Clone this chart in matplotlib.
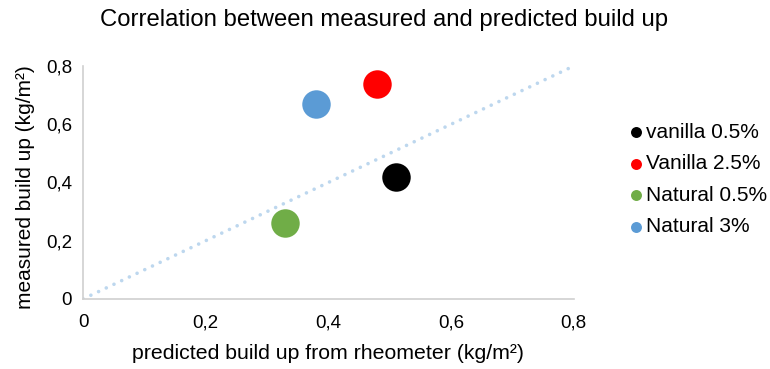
import matplotlib
matplotlib.use("Agg")
import matplotlib.pyplot as plt
from matplotlib.ticker import FuncFormatter

plt.rcParams['font.family'] = ['Liberation Sans', 'DejaVu Sans']

labels = ["vanilla 0.5%", "Vanilla 2.5%", "Natural 0.5%", "Natural 3%"]
predicted = [0.51, 0.48, 0.33, 0.38]
measured = [0.42, 0.74, 0.26, 0.67]
colors = ["#000000", "#ff0000", "#70ad47", "#5b9bd5"]
line_x = [0, 0.8]
line_y = [0, 0.8]

fig = plt.figure(figsize=(7.7, 3.69), dpi=100)
ax = fig.add_axes([0.108, 0.19, 0.637, 0.631])

ax.plot(line_x, line_y, linestyle=(0, (0.01, 2.35)), color="#bdd7ee",
        linewidth=2.6, dash_capstyle="round", zorder=1)
for lab, px, my, c in zip(labels, predicted, measured, colors):
    ax.scatter(px, my, s=420, color=c, label=lab, zorder=3, linewidths=0)

ax.set_xlim(0, 0.8)
ax.set_ylim(0, 0.8)
ticks = [0, 0.2, 0.4, 0.6, 0.8]
ax.set_xticks(ticks)
ax.set_yticks(ticks)
fmt = FuncFormatter(lambda v, p: "0" if v == 0 else ("%.1f" % v).replace(".", ","))
ax.xaxis.set_major_formatter(fmt)
ax.yaxis.set_major_formatter(fmt)
ax.tick_params(length=0, labelsize=13.5, colors="#000000", pad=8)
ax.tick_params(axis="x", pad=11)

for s in ["top", "right"]:
    ax.spines[s].set_visible(False)
for s in ["left", "bottom"]:
    ax.spines[s].set_color("#d0d0d0")
    ax.spines[s].set_linewidth(1.2)

ax.set_xlabel("predicted build up from rheometer (kg/m²)", fontsize=15.3, labelpad=9)
ax.set_ylabel("measured build up (kg/m²)", fontsize=15, labelpad=8, y=0.48)
fig.text(0.4987, 1 - 26 / 369, "Correlation between measured and predicted build up",
         fontsize=17.2, ha="center", va="baseline")

leg = ax.legend(loc="center left", bbox_to_anchor=(1.088, 0.513), frameon=False,
                fontsize=15, markerscale=0.385, handletextpad=0.0,
                labelspacing=0.6, handlelength=1.0, borderaxespad=0)

fig.savefig("out.png", dpi=100)
